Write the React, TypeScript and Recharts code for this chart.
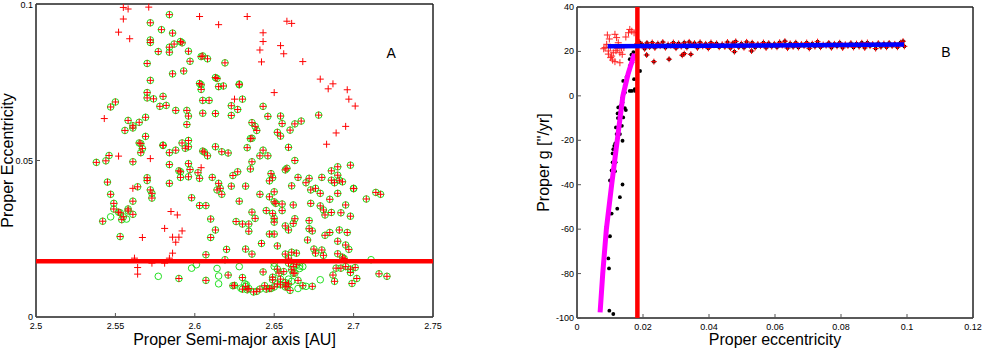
import { ScatterChart, Scatter, XAxis, YAxis, ReferenceDot, ReferenceArea } from "recharts";

const FONT = "'Liberation Sans', Arial, Helvetica, sans-serif";

// Panel A: proper semi-major axis [AU] vs proper eccentricity
const ticksAx = [2.5, 2.55, 2.6, 2.65, 2.7, 2.75];
const ticksAy = [0, 0.05, 0.1];

// asteroids found by both methods (green circle + red cross)
const bothA: [number, number][] = [
  [2.584, 0.0966], [2.572, 0.094], [2.579, 0.0918], [2.586, 0.0907], [2.572, 0.0885], [2.572, 0.0877],
  [2.591, 0.088], [2.592, 0.0876], [2.584, 0.0862], [2.584, 0.0846], [2.577, 0.0848], [2.587, 0.0872],
  [2.596, 0.0849], [2.597, 0.0817], [2.604, 0.0832], [2.605, 0.0834], [2.608, 0.0825], [2.619, 0.0812],
  [2.57, 0.081], [2.593, 0.0786], [2.586, 0.0777], [2.613, 0.0765], [2.614, 0.0762], [2.603, 0.0746],
  [2.604, 0.0742], [2.604, 0.0727], [2.615, 0.0736], [2.618, 0.0738], [2.628, 0.0744], [2.628, 0.0742],
  [2.572, 0.0756], [2.57, 0.0717], [2.57, 0.07], [2.574, 0.0697], [2.58, 0.0705], [2.605, 0.0692],
  [2.609, 0.0692], [2.63, 0.0696], [2.578, 0.0673], [2.582, 0.0676], [2.588, 0.066], [2.595, 0.066],
  [2.596, 0.0642], [2.605, 0.0651], [2.613, 0.065], [2.623, 0.0675], [2.627, 0.0663], [2.623, 0.0644],
  [2.643, 0.0673], [2.646, 0.0641], [2.654, 0.0642], [2.655, 0.0618], [2.663, 0.0617], [2.667, 0.0626],
  [2.678, 0.0645], [2.66, 0.0597], [2.652, 0.059], [2.654, 0.0578], [2.636, 0.0621], [2.638, 0.0609],
  [2.639, 0.0596], [2.635, 0.057], [2.636, 0.0571], [2.633, 0.0541], [2.643, 0.0533], [2.641, 0.0515],
  [2.646, 0.0515], [2.659, 0.0542], [2.663, 0.05], [2.657, 0.047], [2.658, 0.0475], [2.648, 0.0458],
  [2.649, 0.0445], [2.647, 0.0435], [2.636, 0.0496], [2.635, 0.0473], [2.627, 0.0464], [2.624, 0.0452],
  [2.623, 0.0418], [2.632, 0.0418], [2.611, 0.0446], [2.615, 0.0427], [2.614, 0.0406], [2.616, 0.0411],
  [2.617, 0.0392], [2.605, 0.053], [2.606, 0.0527], [2.608, 0.0515], [2.613, 0.0544], [2.617, 0.0528],
  [2.621, 0.0524], [2.602, 0.0461], [2.603, 0.0443], [2.596, 0.049], [2.596, 0.0448], [2.59, 0.0467],
  [2.591, 0.0464], [2.591, 0.0446], [2.584, 0.0487], [2.584, 0.0427], [2.584, 0.0525], [2.588, 0.0533],
  [2.58, 0.0548], [2.594, 0.0539], [2.596, 0.0564], [2.596, 0.0544], [2.592, 0.0556], [2.595, 0.0615],
  [2.597, 0.0471], [2.598, 0.0381], [2.603, 0.0356], [2.607, 0.0356], [2.61, 0.0313], [2.613, 0.0278],
  [2.61, 0.0254], [2.607, 0.0199], [2.62, 0.0216], [2.619, 0.0183], [2.621, 0.0134], [2.624, 0.01],
  [2.625, 0.0101], [2.607, 0.0117], [2.59, 0.0123], [2.626, 0.0305], [2.628, 0.037], [2.63, 0.0297],
  [2.634, 0.0297], [2.634, 0.0274], [2.636, 0.0335], [2.638, 0.0315], [2.632, 0.0217], [2.636, 0.0201],
  [2.642, 0.0235], [2.641, 0.0392], [2.647, 0.0384], [2.65, 0.04], [2.65, 0.0368], [2.651, 0.0363],
  [2.655, 0.0361], [2.655, 0.034], [2.645, 0.034], [2.649, 0.0331], [2.65, 0.0315], [2.65, 0.0303],
  [2.647, 0.0265], [2.65, 0.0265], [2.652, 0.0227], [2.657, 0.0291], [2.659, 0.0278], [2.662, 0.0299],
  [2.663, 0.0314], [2.662, 0.0358], [2.661, 0.0419], [2.665, 0.0446], [2.67, 0.0429], [2.672, 0.0443],
  [2.68, 0.0446], [2.673, 0.0406], [2.676, 0.0411], [2.679, 0.0395], [2.673, 0.0363], [2.679, 0.0355],
  [2.681, 0.0342], [2.682, 0.0326], [2.686, 0.0334], [2.685, 0.0376], [2.69, 0.0395], [2.686, 0.0467],
  [2.686, 0.0437], [2.688, 0.0429], [2.69, 0.048], [2.69, 0.0453], [2.691, 0.0437], [2.693, 0.0432],
  [2.698, 0.0485], [2.7, 0.041], [2.7, 0.0411], [2.695, 0.0358], [2.692, 0.0333], [2.698, 0.0322],
  [2.708, 0.0377], [2.714, 0.0398], [2.717, 0.0392], [2.672, 0.0308], [2.672, 0.0282], [2.674, 0.0275],
  [2.671, 0.0246], [2.685, 0.027], [2.682, 0.0261], [2.691, 0.0278], [2.696, 0.027], [2.69, 0.0242],
  [2.695, 0.023], [2.697, 0.0216], [2.675, 0.0217], [2.676, 0.0204], [2.68, 0.0214], [2.681, 0.0197],
  [2.69, 0.0202], [2.693, 0.0191], [2.694, 0.0187], [2.689, 0.0156], [2.692, 0.0156], [2.695, 0.0161],
  [2.698, 0.0142], [2.698, 0.0153], [2.701, 0.0158], [2.687, 0.0134], [2.688, 0.0114], [2.699, 0.0107],
  [2.702, 0.0123], [2.716, 0.0138], [2.721, 0.013], [2.657, 0.0201], [2.661, 0.0207], [2.664, 0.0204],
  [2.659, 0.0188], [2.659, 0.0172], [2.662, 0.0161], [2.664, 0.0167], [2.661, 0.0151], [2.662, 0.014],
  [2.663, 0.014], [2.652, 0.0153], [2.653, 0.014], [2.656, 0.0145], [2.654, 0.0121], [2.649, 0.0127],
  [2.649, 0.0119], [2.652, 0.0106], [2.654, 0.0103], [2.657, 0.011], [2.658, 0.0098], [2.659, 0.0106],
  [2.66, 0.0085], [2.657, 0.0096], [2.643, 0.0144], [2.644, 0.01], [2.647, 0.0091], [2.645, 0.0089],
  [2.648, 0.0091], [2.65, 0.0096], [2.641, 0.0089], [2.639, 0.0082], [2.637, 0.008], [2.634, 0.0091],
  [2.633, 0.0087], [2.63, 0.0089], [2.632, 0.0098], [2.63, 0.0126], [2.668, 0.01], [2.674, 0.0098],
  [2.665, 0.0117], [2.538, 0.0494], [2.544, 0.0499], [2.546, 0.0516], [2.545, 0.0431], [2.547, 0.0392],
  [2.549, 0.0363], [2.549, 0.0345], [2.552, 0.0335], [2.553, 0.0333], [2.554, 0.0311], [2.555, 0.032],
  [2.558, 0.0345], [2.558, 0.0339], [2.561, 0.037], [2.561, 0.0328], [2.542, 0.0306], [2.553, 0.0257],
  [2.561, 0.0496], [2.564, 0.0416], [2.57, 0.0445], [2.57, 0.0436], [2.572, 0.0406], [2.573, 0.0395],
  [2.573, 0.038], [2.566, 0.0554], [2.565, 0.0556], [2.567, 0.0538], [2.566, 0.0525], [2.569, 0.0577],
  [2.569, 0.0638], [2.565, 0.0622], [2.558, 0.0628], [2.561, 0.0611], [2.561, 0.0604], [2.556, 0.0596],
  [2.547, 0.0671], [2.55, 0.0687], [2.58, 0.0549],
];

// red crosses only
const redOnlyA: [number, number][] = [
  [2.555, 0.0989], [2.558, 0.0984], [2.571, 0.099], [2.555, 0.0952], [2.552, 0.091], [2.559, 0.0889],
  [2.603, 0.096], [2.633, 0.096], [2.615, 0.0934], [2.658, 0.0945], [2.661, 0.0938], [2.643, 0.0908],
  [2.643, 0.088], [2.641, 0.0853], [2.654, 0.0867], [2.656, 0.0841], [2.642, 0.0815], [2.668, 0.0816],
  [2.679, 0.076], [2.684, 0.0729], [2.687, 0.0745], [2.696, 0.0726], [2.697, 0.0696], [2.701, 0.0674],
  [2.65, 0.0717], [2.625, 0.0696], [2.695, 0.0609], [2.689, 0.0588], [2.683, 0.0552], [2.543, 0.0634],
  [2.552, 0.0514], [2.572, 0.0506], [2.604, 0.0477], [2.561, 0.0411], [2.585, 0.0337], [2.589, 0.0326],
  [2.581, 0.0283], [2.592, 0.0275], [2.586, 0.0255], [2.59, 0.0255], [2.567, 0.0254], [2.588, 0.0239],
  [2.586, 0.0204], [2.562, 0.0188], [2.564, 0.0158], [2.564, 0.0137], [2.581, 0.0172], [2.584, 0.0188],
  [2.573, 0.0172],
];

// green circles only
const greenOnlyA: [number, number][] = [
  [2.547, 0.032], [2.557, 0.0313], [2.577, 0.013], [2.598, 0.0156], [2.601, 0.0167], [2.614, 0.0155],
  [2.615, 0.0131], [2.615, 0.0106], [2.628, 0.0161], [2.6315, 0.0106], [2.6325, 0.0103], [2.629, 0.0092],
  [2.665, 0.0091], [2.67, 0.0098], [2.679, 0.0119], [2.668, 0.0161], [2.666, 0.0163], [2.711, 0.0183],
  [2.65, 0.0161], [2.65, 0.0172], [2.659, 0.0121], [2.661, 0.0114], [2.666, 0.0155],
];

const cutoffA: [number, number][] = [[2.5, 0.0178], [2.75, 0.0178]];

// Panel B: proper eccentricity vs proper g
const ticksBx = [0, 0.02, 0.04, 0.06, 0.08, 0.1, 0.12];
const ticksBy = [-100, -80, -60, -40, -20, 0, 20, 40];

const redOnlyB: [number, number][] = [
  [0.0092, 27.4], [0.0115, 27.7], [0.0148, 26.5], [0.016, 29.9], [0.0166, 29.1], [0.0173, 28.4],
  [0.0156, 28.4], [0.0085, 21.7], [0.0095, 20.2], [0.011, 19.4], [0.013, 19.4], [0.0102, 17.2],
  [0.0115, 15.4], [0.013, 14.9], [0.0105, 17.9], [0.009, 23.2], [0.0125, 23.9], [0.0142, 21.7],
  [0.0137, 18.7], [0.0122, 21.2], [0.0101, 21.9], [0.0081, 21.2], [0.0098, 25.6], [0.012, 26.2],
  [0.0108, 16.1], [0.0095, 18.8], [0.0135, 21.6], [0.0118, 20.3],
];

const blackOnlyB: [number, number][] = [
  [0.0098, -96.7], [0.011, -98.2], [0.0097, -77.7], [0.0095, -73.2], [0.009, -63.5], [0.01, -63.2],
  [0.009, -58.7], [0.0095, -53.8], [0.0105, -53], [0.0122, -50.8], [0.013, -45.6], [0.0138, -39.9],
  [0.01, -38.1], [0.0115, -33.9], [0.0105, -33.6], [0.0108, -29.9], [0.0117, -29.9], [0.0108, -25.9],
  [0.011, -24], [0.0116, -21.4], [0.0113, -22.5], [0.0138, -20.2], [0.012, -17.2], [0.013, -17.2],
  [0.0118, -14.2], [0.0136, -13.5], [0.0124, -10], [0.014, -9.7], [0.0123, -7.9], [0.013, -7.6],
  [0.0125, -5.2], [0.0148, -6.4], [0.0132, -4.5], [0.0138, -3], [0.0145, -5.5], [0.014, 6.7],
  [0.0145, 4.5], [0.015, 8.5], [0.0156, 10.4], [0.016, 13.5], [0.016, 16.5], [0.0171, 17.9],
  [0.0171, 19.7], [0.0173, 7.5], [0.0176, 2.2], [0.0175, 3], [0.0191, 11.2], [0.0166, 2.2],
  [0.0145, 1.5], [0.016, 2.2], [0.0137, -1], [0.0165, 18.5], [0.0168, 15],
];

// black dot + red cross
const bothB: [number, number][] = [
  [0.0211, 18.4], [0.0233, 15.4], [0.0279, 16.5], [0.0319, 18.3], [0.0325, 19], [0.0345, 18.7],
  [0.0477, 19.9], [0.0529, 20.2],
  [0.0182, 23.4], [0.019, 24.1], [0.0198, 23], [0.0205, 21.2], [0.0212, 23.8], [0.022, 22],
  [0.0228, 24], [0.0236, 21.6], [0.0245, 23.5], [0.0252, 22.4], [0.026, 24.2], [0.0268, 21.7],
  [0.0276, 23.1], [0.0284, 22.6], [0.0292, 24], [0.03, 21.5], [0.0308, 23.6], [0.0316, 22.2],
  [0.0325, 23.9], [0.0333, 21.8], [0.034, 24.3], [0.0348, 22.9], [0.0356, 23.7], [0.0365, 21.6],
  [0.0373, 24.1], [0.0381, 22.3], [0.039, 23.4], [0.0398, 21.4], [0.0406, 24], [0.0415, 22.8],
  [0.0423, 23.6], [0.0431, 21.9], [0.044, 23.2], [0.0448, 22.1], [0.0456, 24.2], [0.0465, 21.5],
  [0.0473, 23.8], [0.0481, 24.5], [0.049, 22], [0.0498, 23.5], [0.0506, 21.7], [0.0514, 24.3],
  [0.0523, 22.6], [0.0531, 23.9], [0.054, 21.8], [0.0548, 23.3], [0.0556, 22.4], [0.0565, 24],
  [0.0573, 21.6], [0.0581, 23.7], [0.059, 22.2], [0.0598, 23.4], [0.0606, 21.9], [0.0614, 24.1],
  [0.0622, 22.7], [0.063, 24.6], [0.0638, 21.5], [0.0646, 23.6], [0.0655, 22.1], [0.0663, 23.9],
  [0.0671, 21.8], [0.068, 23.3], [0.0688, 22.5], [0.0696, 24], [0.0704, 21.4], [0.0713, 23.5],
  [0.0721, 22.2], [0.0729, 24.4], [0.0738, 21.9], [0.0746, 23.1], [0.0755, 22.6], [0.0763, 23.8],
  [0.0771, 21.7], [0.078, 23.4], [0.0788, 22.3], [0.0796, 23.9], [0.0805, 21.6], [0.0813, 23.2],
  [0.0821, 22.5], [0.083, 23.7], [0.0838, 21.8], [0.0847, 23.5], [0.0855, 22.2], [0.0863, 23.9],
  [0.0872, 21.6], [0.088, 24], [0.0888, 22.4], [0.0896, 23.3], [0.0905, 21.3], [0.0913, 23.7],
  [0.0921, 22.1], [0.093, 23.5], [0.0938, 21.9], [0.0946, 23.8], [0.0955, 22.5], [0.0963, 23.4],
  [0.0971, 21.9], [0.098, 23.9], [0.0988, 24.6], [0.0992, 22.3],
];

const cutoffB: [number, number][] = [[0.0183, -100], [0.0183, 40]];
const fitBlue: [number, number][] = [[0.0093, 22.3], [0.0991, 23.1]];
const fitMagenta: [number, number][] = [
  [0.007, -97.5], [0.0078, -80], [0.0089, -60], [0.0105, -40], [0.0122, -20], [0.0139, 0], [0.0155, 10], [0.0174, 19],
];

const pts = (arr: [number, number][]) => arr.map(([x, y]) => ({ x, y }));

const cross = (color: string, h: number) => (p: any) => (
  <path
    d={`M${p.cx - h},${p.cy}H${p.cx + h}M${p.cx},${p.cy - h}V${p.cy + h}`}
    stroke={color}
    strokeWidth={1}
    fill="none"
  />
);
const ring = (p: any) => <circle cx={p.cx} cy={p.cy} r={3.3} fill="none" stroke="#22e022" strokeWidth={1} />;
const dot = (p: any) => <circle cx={p.cx} cy={p.cy} r={1.9} fill="#000" />;
const nothing = () => <g />;

type Side = "bottom" | "top" | "left" | "right";
const frameTick = (side: Side, labelled: boolean) => (props: any) => {
  const { x, y, payload } = props;
  const n = 4;
  const label = String(payload.value);
  let line = null;
  let text = null;
  if (side === "bottom") {
    line = <line x1={x} y1={y} x2={x} y2={y - n} />;
    if (labelled) text = <text x={x} y={y + 12} textAnchor="middle">{label}</text>;
  } else if (side === "top") {
    line = <line x1={x} y1={y} x2={x} y2={y + n} />;
  } else if (side === "left") {
    line = <line x1={x} y1={y} x2={x + n} y2={y} />;
    if (labelled) text = <text x={x - 3} y={Math.max(y + 3, 8)} textAnchor="end">{label}</text>;
  } else {
    line = <line x1={x} y1={y} x2={x - n} y2={y} />;
  }
  return (
    <g>
      <g stroke="#555" strokeWidth={1}>{line}</g>
      {text && <g fill="#000" fontSize={9} fontFamily={FONT}>{text}</g>}
    </g>
  );
};

const axisStroke = { stroke: "#222", strokeWidth: 1 };
const labelStyle = { fontSize: 16, fontFamily: FONT, fill: "#000" };

export default function App() {
  return (
    <div style={{ position: "absolute", left: 0, top: 0, width: 982, height: 349, background: "#fff" }}>
      {/* Panel A */}
      <div style={{ position: "absolute", left: 0, top: 0 }}>
        <ScatterChart width={450} height={349} margin={{ top: 3, right: 16, bottom: 0, left: 6 }}>
          <XAxis
            type="number" dataKey="x" domain={[2.5, 2.75]} ticks={ticksAx} interval={0}
            height={32} tickSize={0} tickMargin={0} tickLine={false} axisLine={axisStroke}
            tick={frameTick("bottom", true)}
            label={{ value: "Proper Semi-major axis [AU]", position: "insideBottom", offset: 4, style: labelStyle }}
          />
          <XAxis
            xAxisId="top" orientation="top" type="number" dataKey="x" domain={[2.5, 2.75]} ticks={ticksAx}
            interval={0} height={1} tickSize={0} tickMargin={0} tickLine={false} axisLine={axisStroke}
            tick={frameTick("top", false)}
          />
          <YAxis
            type="number" dataKey="y" domain={[0, 0.1]} ticks={ticksAy} interval={0}
            width={30} tickSize={0} tickMargin={0} tickLine={false} axisLine={axisStroke}
            tick={frameTick("left", true)}
            label={{ value: "Proper Eccentricity", angle: -90, position: "insideLeft", offset: 1, style: { ...labelStyle, textAnchor: "middle" } }}
          />
          <YAxis
            yAxisId="right" orientation="right" type="number" dataKey="y" domain={[0, 0.1]} ticks={ticksAy}
            interval={0} width={1} tickSize={0} tickMargin={0} tickLine={false} axisLine={axisStroke}
            tick={frameTick("right", false)}
          />
          <ReferenceArea x1={2.5} x2={2.75} y1={0} y2={0.1} fill="none" stroke="#222" strokeWidth={1} />
          <Scatter data={[]} xAxisId="top" yAxisId="right" isAnimationActive={false} />
          <Scatter data={pts(bothA)} shape={ring} isAnimationActive={false} />
          <Scatter data={pts(greenOnlyA)} shape={ring} isAnimationActive={false} />
          <Scatter data={pts(bothA)} shape={cross("#ff0000", 3.5)} isAnimationActive={false} />
          <Scatter data={pts(redOnlyA)} shape={cross("#ff0000", 3.5)} isAnimationActive={false} />
          <Scatter
            data={pts(cutoffA)} shape={nothing} line={{ stroke: "#ff0000", strokeWidth: 4.5 }}
            isAnimationActive={false}
          />
          <ReferenceDot
            x={2.7236} y={0.0844} r={0} fill="none" stroke="none"
            label={{ value: "A", position: "center", style: { fontSize: 14, fontFamily: FONT, fill: "#000" } }}
          />
        </ScatterChart>
      </div>

      {/* Panel B */}
      <div style={{ position: "absolute", left: 520, top: 0 }}>
        <ScatterChart width={462} height={349} margin={{ top: 6, right: 8, bottom: 0, left: 7 }}>
          <XAxis
            type="number" dataKey="x" domain={[0, 0.12]} ticks={ticksBx} interval={0}
            height={31} tickSize={0} tickMargin={0} tickLine={false} axisLine={axisStroke}
            tick={frameTick("bottom", true)}
            label={{ value: "Proper eccentricity", position: "insideBottom", offset: 4, style: labelStyle }}
          />
          <XAxis
            xAxisId="top" orientation="top" type="number" dataKey="x" domain={[0, 0.12]} ticks={ticksBx}
            interval={0} height={1} tickSize={0} tickMargin={0} tickLine={false} axisLine={axisStroke}
            tick={frameTick("top", false)}
          />
          <YAxis
            type="number" dataKey="y" domain={[-100, 40]} ticks={ticksBy} interval={0}
            width={50} tickSize={0} tickMargin={0} tickLine={false} axisLine={axisStroke}
            tick={frameTick("left", true)}
            label={{ value: "Proper g [''/yr]", angle: -90, position: "insideLeft", offset: 16, style: { ...labelStyle, textAnchor: "middle" } }}
          />
          <YAxis
            yAxisId="right" orientation="right" type="number" dataKey="y" domain={[-100, 40]} ticks={ticksBy}
            interval={0} width={1} tickSize={0} tickMargin={0} tickLine={false} axisLine={axisStroke}
            tick={frameTick("right", false)}
          />
          <ReferenceArea x1={0} x2={0.12} y1={-100} y2={40} fill="none" stroke="#222" strokeWidth={1} />
          <Scatter data={[]} xAxisId="top" yAxisId="right" isAnimationActive={false} />
          <Scatter data={pts(blackOnlyB)} shape={dot} isAnimationActive={false} />
          <Scatter data={pts(bothB)} shape={dot} isAnimationActive={false} />
          <Scatter data={pts(redOnlyB)} shape={cross("#ff2020", 3.5)} isAnimationActive={false} />
          <Scatter data={pts(bothB)} shape={cross("#ff0000", 3)} isAnimationActive={false} />
          <Scatter
            data={pts(fitMagenta)} shape={nothing} line={{ stroke: "#ff00ff", strokeWidth: 5 }}
            isAnimationActive={false}
          />
          <Scatter
            data={pts(cutoffB)} shape={nothing} line={{ stroke: "#ff0000", strokeWidth: 4.5 }}
            isAnimationActive={false}
          />
          <Scatter
            data={pts(fitBlue)} shape={nothing} line={{ stroke: "#0000ff", strokeWidth: 4.5 }}
            isAnimationActive={false}
          />
          <ReferenceDot
            x={0.1118} y={19.7} r={0} fill="none" stroke="none"
            label={{ value: "B", position: "center", style: { fontSize: 14, fontFamily: FONT, fill: "#000" } }}
          />
        </ScatterChart>
      </div>
    </div>
  );
}
